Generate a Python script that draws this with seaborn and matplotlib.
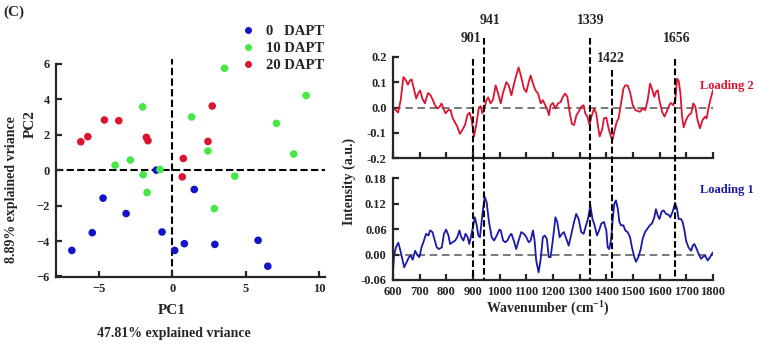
import numpy as np
import pandas as pd
import matplotlib
matplotlib.use("Agg")
import matplotlib.pyplot as plt
import matplotlib.transforms as mtransforms
from matplotlib.lines import Line2D
import seaborn as sns

# PCA scores
pc1_0 = [-6.85, -5.46, -4.72, -3.15, -1.09, -0.70, 0.16, 0.82, 1.50, 2.90, 5.85, 6.51]
pc2_0 = [-4.53, -3.53, -1.58, -2.45, 0.00, -3.49, -4.53, -4.15, -1.09, -4.19, -3.96, -5.42]
pc1_10 = [3.56, 9.12, -2.02, 1.32, 7.10, 8.28, 2.43, -3.90, -2.86, -1.99, -0.84, -1.72, 4.26, 2.86]
pc2_10 = [5.75, 4.21, 3.57, 3.00, 2.64, 0.91, 1.08, 0.28, 0.57, -0.26, 0.04, -1.26, -0.34, -2.17]
pc1_20 = [-6.24, -5.76, -4.63, -3.65, -1.77, -1.66, 2.72, 2.43, 0.75, 0.68]
pc2_20 = [1.60, 1.89, 2.83, 2.79, 1.85, 1.66, 3.62, 1.62, 0.66, -0.38]
groups = ["0   DAPT", "10 DAPT", "20 DAPT"]

# loading 2 (top panel)
wn_l2 = [600, 610, 619, 629, 639, 647, 656, 664, 670, 679, 687, 695, 702, 710, 720, 726, 732, 741,
         750, 757, 766, 775, 782, 789, 797, 807, 816, 822, 831, 841, 851, 860, 870, 879, 887, 895,
         904, 912, 922, 929, 935, 941, 950, 957, 966, 975, 985, 993, 1004, 1012, 1025, 1034, 1044,
         1054, 1062, 1071, 1081, 1091, 1100, 1109, 1116, 1125, 1134, 1144, 1154, 1162, 1171, 1179,
         1185, 1191, 1200, 1209, 1219, 1229, 1237, 1246, 1254, 1262, 1271, 1279, 1288, 1296, 1306,
         1315, 1321, 1329, 1337, 1344, 1354, 1362, 1369, 1375, 1384, 1391, 1400, 1409, 1418, 1424,
         1430, 1439, 1446, 1455, 1464, 1471, 1480, 1489, 1499, 1509, 1518, 1526, 1536, 1546, 1555,
         1564, 1571, 1580, 1586, 1593, 1599, 1609, 1618, 1626, 1636, 1642, 1651, 1659, 1665, 1671,
         1678, 1684, 1690, 1699, 1709, 1718, 1726, 1734, 1742, 1751, 1761, 1770, 1776, 1784, 1793,
         1800]
l2 = [0.0, -0.01, -0.02, 0.03, 0.12, 0.11, 0.09, 0.107, 0.11, 0.07, 0.035, 0.057, 0.067, 0.035,
      0.016, 0.04, 0.057, 0.048, 0.028, 0.01, -0.004, 0.003, 0.016, -0.004, -0.023, -0.01, -0.01,
      -0.036, -0.056, -0.075, -0.104, -0.088, -0.069, -0.03, -0.02, -0.05, -0.114, -0.069, 0.0,
      0.005, -0.023, -0.01, 0.028, 0.04, 0.016, 0.031, 0.087, 0.06, 0.016, 0.055, 0.1, 0.087,
      0.048, 0.094, 0.126, 0.158, 0.12, 0.074, 0.061, 0.1, 0.126, 0.094, 0.068, 0.055, 0.016,
      0.029, 0.009, -0.01, -0.03, 0.009, 0.018, -0.004, 0.016, 0.022, 0.042, 0.055, 0.042, -0.017,
      -0.065, -0.069, -0.03, -0.017, 0.003, 0.009, -0.023, -0.036, -0.069, -0.036, -0.004, -0.023,
      -0.075, -0.114, -0.088, -0.043, -0.04, -0.085, -0.117, -0.125, -0.095, -0.056, -0.043,
      0.016, 0.074, 0.087, 0.087, 0.061, 0.009, -0.01, -0.014, -0.017, -0.004, -0.01, 0.029,
      0.094, 0.074, 0.042, 0.061, 0.068, 0.029, -0.017, -0.036, -0.017, 0.009, 0.018, 0.009,
      0.029, 0.113, 0.106, 0.055, -0.036, -0.078, -0.049, -0.03, -0.023, 0.016, 0.003, -0.049,
      -0.082, -0.049, -0.036, -0.043, 0.003, 0.042, 0.068]

# loading 1 (bottom panel)
wn_l1 = [600, 604, 611, 620, 629, 636, 642, 651, 660, 666, 674, 683, 691, 699, 707, 716, 724, 733,
         739, 748, 755, 764, 773, 783, 791, 799, 808, 814, 823, 833, 841, 849, 856, 864, 872, 880,
         886, 892, 901, 907, 914, 920, 926, 936, 944, 951, 960, 970, 979, 989, 999, 1004, 1013,
         1021, 1029, 1038, 1044, 1053, 1062, 1071, 1081, 1091, 1100, 1109, 1116, 1125, 1131, 1137,
         1146, 1154, 1162, 1169, 1177, 1184, 1191, 1200, 1209, 1216, 1225, 1234, 1241, 1250, 1259,
         1269, 1279, 1287, 1296, 1306, 1315, 1322, 1331, 1340, 1348, 1356, 1365, 1373, 1381, 1391,
         1400, 1405, 1411, 1418, 1424, 1430, 1436, 1443, 1449, 1455, 1464, 1471, 1480, 1489, 1496,
         1505, 1511, 1520, 1529, 1536, 1545, 1555, 1564, 1571, 1580, 1586, 1593, 1599, 1608, 1615,
         1624, 1633, 1640, 1649, 1658, 1665, 1671, 1680, 1686, 1693, 1699, 1708, 1718, 1724, 1730,
         1736, 1746, 1755, 1761, 1770, 1780, 1789, 1799]
l1 = [-0.04, -0.002, 0.017, 0.028, 0.006, -0.014, -0.03, -0.018, -0.006, -0.002, -0.012, 0.009,
      -0.001, -0.006, 0.017, 0.033, 0.049, 0.045, 0.057, 0.053, 0.037, 0.017, 0.013, 0.017, 0.049,
      0.059, 0.045, 0.025, 0.029, 0.033, 0.041, 0.057, 0.041, 0.033, 0.049, 0.041, 0.025, 0.041,
      0.069, 0.088, 0.069, 0.045, 0.041, 0.1, 0.136, 0.124, 0.077, 0.041, 0.033, 0.045, 0.059,
      0.057, 0.033, 0.029, 0.033, 0.045, 0.049, 0.033, 0.013, 0.033, 0.053, 0.049, 0.041, 0.029,
      0.033, 0.057, 0.033, -0.014, -0.042, -0.01, 0.041, 0.045, 0.037, -0.006, -0.006, 0.037,
      0.088, 0.077, 0.041, 0.049, 0.053, 0.037, 0.021, 0.049, 0.077, 0.096, 0.084, 0.053, 0.049,
      0.065, 0.084, 0.116, 0.084, 0.069, 0.045, 0.057, 0.073, 0.077, 0.057, 0.017, 0.013, 0.037,
      0.084, 0.12, 0.128, 0.108, 0.077, 0.069, 0.069, 0.057, 0.053, 0.041, 0.017, -0.006, -0.017,
      -0.006, 0.013, 0.037, 0.053, 0.062, 0.07, 0.073, 0.088, 0.107, 0.092, 0.084, 0.102, 0.104,
      0.096, 0.094, 0.088, 0.102, 0.122, 0.108, 0.084, 0.084, 0.077, 0.057, 0.033, 0.017, 0.009,
      0.021, 0.025, 0.017, 0.002, -0.01, -0.006, -0.002, -0.014, -0.006, 0.005]

peaks = [901, 941, 1339, 1422, 1656]

sns.set_style("ticks")
plt.rcParams["font.family"] = ["Liberation Serif", "DejaVu Serif"]
plt.rcParams["font.weight"] = "bold"
plt.rcParams["axes.labelweight"] = "bold"
plt.rcParams["mathtext.fontset"] = "custom"
plt.rcParams["mathtext.rm"] = "Liberation Serif"
plt.rcParams["mathtext.bf"] = "Liberation Serif:bold"

W, H = 757, 343


def fx(x):
    return x / W


def fy(y):
    return 1 - y / H


def style_axes(ax):
    sns.despine(ax=ax)
    for s in ["left", "bottom"]:
        ax.spines[s].set_linewidth(1.6)
    ax.tick_params(direction="in", length=4, width=1.6, labelsize=9)
    ax.tick_params(axis="x", pad=4)
    ax.tick_params(axis="y", pad=4.5)
    for lab in ax.get_xticklabels() + ax.get_yticklabels():
        lab.set_fontweight("bold")


fig = plt.figure(figsize=(W / 100, H / 100), dpi=100)

# ---------- PCA score plot ----------
ax = fig.add_axes([fx(56), fy(277), fx(325 - 56), (277 - 58.5) / H])
scores = pd.DataFrame({
    "PC1": pc1_0 + pc1_10 + pc1_20,
    "PC2": pc2_0 + pc2_10 + pc2_20,
    "group": [groups[0]] * len(pc1_0) + [groups[1]] * len(pc1_10) + [groups[2]] * len(pc1_20),
})
pal = {groups[0]: "#1414c8", groups[1]: "#46e846", groups[2]: "#dc1430"}
sns.scatterplot(data=scores, x="PC1", y="PC2", hue="group", palette=pal, s=30,
                edgecolor="none", ax=ax, legend=False)
ax.axhline(0, color="black", lw=1.5, ls=(0, (3.5, 1.6)), zorder=0)
ax.axvline(0, color="black", lw=1.5, ls=(0, (3.5, 1.6)), zorder=0)
ax.set_xlim(-7.93, 10.41)
ax.set_ylim(-6.03, 6.3)
ax.set_xticks([-5, 0, 5, 10])
ax.set_yticks([-6, -4, -2, 0, 2, 4, 6])
ax.set_xlabel("")
ax.set_ylabel("")
style_axes(ax)
ax.spines["left"].set_bounds(-6.03, 6)

handles = [Line2D([], [], marker="o", ls="", color=pal[g], markersize=4) for g in groups]
fig.legend(handles, groups, loc="upper left", bbox_to_anchor=(fx(241), fy(25)),
           frameon=False, fontsize=10.5, handlelength=1.0, handletextpad=0.7,
           labelspacing=0.25, borderpad=0, borderaxespad=0)

fig.text(fx(3), fy(12), "(C)", fontsize=11, fontweight="bold", va="center", ha="left")
fig.text(fx(172), fy(310), "PC1", fontsize=11, fontweight="bold", ha="center", va="center")
fig.text(fx(174), fy(333), "47.81% explained vriance", fontsize=10, fontweight="bold",
         ha="center", va="center")
fig.text(fx(30), fy(124), "PC2", fontsize=11, fontweight="bold", ha="center", va="center",
         rotation=90)
fig.text(fx(12), fy(190), "8.89% explained vriance", fontsize=10, fontweight="bold",
         ha="center", va="center", rotation=90)

# ---------- loadings ----------
ax_top = fig.add_axes([fx(393), fy(158.3), fx(320), 101.6 / H])
ax_bot = fig.add_axes([fx(393), fy(280), fx(320), 101.7 / H])

sns.lineplot(x=wn_l2, y=l2, ax=ax_top, color="#dc1430", lw=1.3, sort=False)
sns.lineplot(x=wn_l1, y=l1, ax=ax_bot, color="#1a1aa8", lw=1.3, sort=False)

for a in (ax_top, ax_bot):
    a.axhline(0, color="#555555", lw=1.1, ls=(0, (5, 3)), zorder=0)
    a.set_xlim(600, 1800)
    a.set_xticks(np.arange(600, 1801, 100))

ax_top.set_ylim(-0.2, 0.2)
ax_top.set_yticks([-0.2, -0.1, 0.0, 0.1, 0.2])
ax_top.set_yticklabels(["-0.2", "-0.1", "0.0", "0.1", "0.2"])
ax_top.set_xticklabels([])
ax_bot.set_ylim(-0.06, 0.18)
ax_bot.set_yticks([-0.06, 0.0, 0.06, 0.12, 0.18])
ax_bot.set_yticklabels(["-0.06", "0.00", "0.06", "0.12", "0.18"])
ax_bot.set_xticklabels([str(v) for v in range(600, 1801, 100)])
style_axes(ax_top)
style_axes(ax_bot)

# dashed peak markers running through both panels
trans = mtransforms.blended_transform_factory(ax_bot.transData, fig.transFigure)
tops = {901: 59, 941: 38, 1339: 38, 1422: 70, 1656: 59}
for p in peaks:
    ax_bot.plot([p, p], [fy(tops[p]), fy(280)], transform=trans, clip_on=False,
                color="black", lw=1.5, ls=(0, (3.2, 1.4)), zorder=5)

for txt, x, y in [("941", 490, 21), ("1339", 591, 21), ("901", 471, 38),
                  ("1422", 611, 58), ("1656", 677, 38)]:
    fig.text(fx(x), fy(y), txt, fontsize=10, fontweight="bold", ha="center", va="center")

fig.text(fx(700), fy(86), "Loading 2", color="#dc1430", fontsize=9, fontweight="bold",
         ha="left", va="center")
fig.text(fx(700), fy(190), "Loading 1", color="#1a1aa8", fontsize=9, fontweight="bold",
         ha="left", va="center")
fig.text(fx(548), fy(308), r"Wavenumber (cm$^{\mathbf{-1}}$)", fontsize=10,
         fontweight="bold", ha="center", va="center")
fig.text(fx(349), fy(181), "Intensity (a.u.)", fontsize=10, fontweight="bold",
         ha="center", va="center", rotation=90)

fig.savefig("out.png", dpi=100)
